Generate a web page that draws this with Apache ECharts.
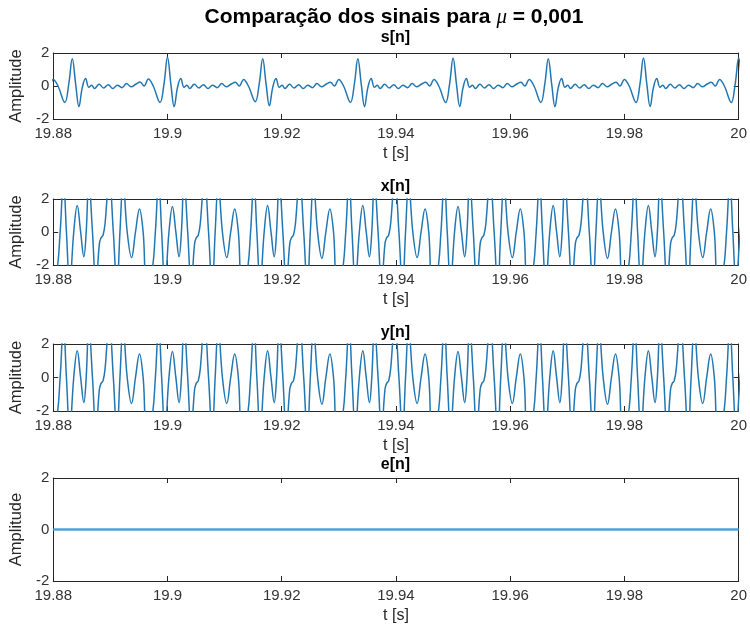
<!DOCTYPE html>
<html>
<head>
<meta charset="utf-8">
<script src="https://cdn.jsdelivr.net/npm/echarts@6/dist/echarts.min.js"></script>
<style>
  html, body { margin: 0; padding: 0; background: #ffffff; }
  #chart { width: 750px; height: 629px; }
</style>
</head>
<body>
<div id="chart"></div>
<script>
// Time origin of the window (s); sample instants below are in ms after it.
const T0 = 19.88;
const xTickLabels = ['19.88', '19.9', '19.92', '19.94', '19.96', '19.98', '20'];
const yTickLabels = ['-2', '0', '2'];
const panelTitles = ['s[n]', 'x[n]', 'y[n]', 'e[n]'];

// s[n]: clean signal
const sTimesMs = [
  -2.17, -1.47, -0.77, -0.02, 0.83, 2.03, 2.73, 3.33, 3.93, 4.5, 5.08, 5.66, 6.23, 6.73, 7.23, 8.03, 8.83, 9.63, 10.43, 11.23, 12.03, 12.83, 13.63,
  14.5, 15.2, 15.9, 16.65, 17.5, 18.7, 19.4, 20.0, 20.6, 21.17, 21.75, 22.33, 22.9, 23.4, 23.9, 24.7, 25.5, 26.3, 27.1, 27.9, 28.7, 29.5, 30.3,
  31.17, 31.87, 32.57, 33.32, 34.17, 35.37, 36.07, 36.67, 37.27, 37.84, 38.42, 39.0, 39.57, 40.07, 40.57, 41.37, 42.17, 42.97, 43.77, 44.57, 45.37, 46.17, 46.97,
  47.83, 48.53, 49.23, 49.98, 50.83, 52.03, 52.73, 53.33, 53.93, 54.5, 55.08, 55.66, 56.23, 56.73, 57.23, 58.03, 58.83, 59.63, 60.43, 61.23, 62.03, 62.83, 63.63,
  64.5, 65.2, 65.9, 66.65, 67.5, 68.7, 69.4, 70.0, 70.6, 71.17, 71.75, 72.33, 72.9, 73.4, 73.9, 74.7, 75.5, 76.3, 77.1, 77.9, 78.7, 79.5, 80.3,
  81.17, 81.87, 82.57, 83.32, 84.17, 85.37, 86.07, 86.67, 87.27, 87.84, 88.42, 89.0, 89.57, 90.07, 90.57, 91.37, 92.17, 92.97, 93.77, 94.57, 95.37, 96.17, 96.97,
  97.83, 98.53, 99.23, 99.98, 100.83, 102.03, 102.73, 103.33, 103.93, 104.5, 105.08, 105.66, 106.23, 106.73, 107.23, 108.03, 108.83, 109.63, 110.43, 111.23, 112.03, 112.83, 113.63,
  114.5, 115.2, 115.9, 116.65, 117.5, 118.7, 119.4, 120.0, 120.6, 121.17
];
const sValues = [
  0.12, 0.22, 0.0, 0.4, 0.0, -1.0, 0.15, 1.65, 0.1, -1.25, -0.1, 0.45, -0.08, 0.05, -0.15, 0.1, -0.12, 0.08, -0.15, 0.05, -0.1, 0.15, -0.05,
  0.12, 0.25, 0.0, 0.42, 0.0, -1.0, 0.15, 1.75, 0.1, -1.25, -0.1, 0.45, -0.08, 0.05, -0.15, 0.1, -0.12, 0.08, -0.15, 0.05, -0.1, 0.15, -0.05,
  0.12, 0.22, 0.0, 0.4, 0.0, -0.95, 0.15, 1.65, 0.1, -1.2, -0.1, 0.45, -0.08, 0.05, -0.15, 0.1, -0.12, 0.08, -0.15, 0.05, -0.1, 0.15, -0.05,
  0.12, 0.22, 0.0, 0.4, 0.0, -1.0, 0.15, 1.65, 0.1, -1.25, -0.1, 0.45, -0.08, 0.05, -0.15, 0.1, -0.12, 0.08, -0.15, 0.05, -0.1, 0.15, -0.05,
  0.12, 0.22, 0.0, 0.4, 0.0, -1.0, 0.15, 1.7, 0.1, -1.25, -0.1, 0.45, -0.08, 0.05, -0.15, 0.1, -0.12, 0.08, -0.15, 0.05, -0.1, 0.15, -0.05,
  0.12, 0.22, 0.0, 0.4, 0.0, -1.0, 0.15, 1.65, 0.1, -1.25, -0.1, 0.45, -0.08, 0.05, -0.15, 0.1, -0.12, 0.08, -0.15, 0.05, -0.1, 0.15, -0.05,
  0.12, 0.22, 0.0, 0.4, 0.0, -1.0, 0.15, 1.7, 0.1, -1.25, -0.1, 0.45, -0.08, 0.05, -0.15, 0.1, -0.12, 0.08, -0.15, 0.05, -0.1, 0.15, -0.05,
  0.12, 0.22, 0.0, 0.4, 0.0, -1.0, 0.15, 1.7, 0.1, -1.25
];

// x[n] and y[n] share the same sample instants
const xyTimesMs = [
  -0.30, 0.57, 1.21, 1.79, 2.31, 2.89, 3.59,
  4.2, 4.78, 5.36, 5.77, 6.23, 6.87, 7.48, 8.08, 8.37, 8.72, 9.07, 9.8, 10.52, 11.16, 11.68, 12.23, 12.95, 13.71, 14.4, 15.1, 15.74, 16.37, 17.24, 17.88, 18.46, 18.98, 19.56, 20.26,
  20.87, 21.45, 22.03, 22.44, 22.9, 23.54, 24.15, 24.75, 25.04, 25.39, 25.74, 26.47, 27.19, 27.83, 28.35, 28.9, 29.62, 30.38, 31.07, 31.77, 32.41, 33.04, 33.91, 34.55, 35.13, 35.65, 36.23, 36.93,
  37.53, 38.11, 38.69, 39.1, 39.56, 40.2, 40.81, 41.41, 41.7, 42.05, 42.4, 43.13, 43.85, 44.49, 45.01, 45.56, 46.28, 47.04, 47.73, 48.43, 49.07, 49.7, 50.57, 51.21, 51.79, 52.31, 52.89, 53.59,
  54.2, 54.78, 55.36, 55.77, 56.23, 56.87, 57.48, 58.08, 58.37, 58.72, 59.07, 59.8, 60.52, 61.16, 61.68, 62.23, 62.95, 63.71, 64.4, 65.1, 65.74, 66.37, 67.24, 67.88, 68.46, 68.98, 69.56, 70.26,
  70.87, 71.45, 72.03, 72.44, 72.9, 73.54, 74.15, 74.75, 75.04, 75.39, 75.74, 76.47, 77.19, 77.83, 78.35, 78.9, 79.62, 80.38, 81.07, 81.77, 82.41, 83.04, 83.91, 84.55, 85.13, 85.65, 86.23, 86.93,
  87.53, 88.11, 88.69, 89.1, 89.56, 90.2, 90.81, 91.41, 91.7, 92.05, 92.4, 93.13, 93.85, 94.49, 95.01, 95.56, 96.28, 97.04, 97.73, 98.43, 99.07, 99.7, 100.57, 101.21, 101.79, 102.31, 102.89, 103.59,
  104.2, 104.78, 105.36, 105.77, 106.23, 106.87, 107.48, 108.08, 108.37, 108.72, 109.07, 109.8, 110.52, 111.16, 111.68, 112.23, 112.95, 113.71, 114.4, 115.1, 115.74, 116.37, 117.24, 117.88, 118.46, 118.98, 119.56, 120.26,
  120.87
];

// x[n]: signal plus interference (peaks beyond ±2 run off the axes)
const xValues = [
  -3.0, -2.5, 0.0, 3.2, 0.0, -3.2, 0.0,
  1.6, 0.05, -1.5, 0.0, 3.2, 0.0, -3.2, -0.7, -0.35, -0.2, 0.5, 3.4, 0.0, -3.4, 0.0, 3.0, 0.0, -1.55, 0.0, 1.4, 0.0, -3.0, -2.5, 0.0, 3.2, 0.0, -3.2, 0.0,
  1.55, 0.05, -1.5, 0.0, 3.2, 0.0, -3.2, -0.7, -0.35, -0.2, 0.5, 3.4, 0.0, -3.4, 0.0, 3.0, 0.0, -1.55, 0.0, 1.4, 0.0, -3.0, -2.5, 0.0, 3.2, 0.0, -3.2, 0.0,
  1.6, 0.05, -1.5, 0.0, 3.2, 0.0, -3.2, -0.7, -0.35, -0.2, 0.5, 3.4, 0.0, -3.4, 0.0, 3.0, 0.0, -1.6, 0.0, 1.4, 0.0, -3.0, -2.5, 0.0, 3.2, 0.0, -3.2, 0.0,
  1.6, 0.05, -1.5, 0.0, 3.2, 0.0, -3.2, -0.7, -0.35, -0.2, 0.5, 3.4, 0.0, -3.4, 0.0, 3.0, 0.0, -1.55, 0.0, 1.4, 0.0, -3.0, -2.5, 0.0, 3.2, 0.0, -3.2, 0.0,
  1.55, 0.05, -1.5, 0.0, 3.2, 0.0, -3.2, -0.7, -0.35, -0.2, 0.5, 3.4, 0.0, -3.4, 0.0, 3.0, 0.0, -1.55, 0.0, 1.4, 0.0, -3.0, -2.5, 0.0, 3.2, 0.0, -3.2, 0.0,
  1.6, 0.05, -1.5, 0.0, 3.2, 0.0, -3.2, -0.7, -0.35, -0.2, 0.5, 3.4, 0.0, -3.4, 0.0, 3.0, 0.0, -1.6, 0.0, 1.4, 0.0, -3.0, -2.5, 0.0, 3.2, 0.0, -3.2, 0.0,
  1.6, 0.05, -1.5, 0.0, 3.2, 0.0, -3.2, -0.7, -0.35, -0.2, 0.5, 3.4, 0.0, -3.4, 0.0, 3.0, 0.0, -1.55, 0.0, 1.4, 0.0, -3.0, -2.5, 0.0, 3.2, 0.0, -3.2, 0.0,
  1.6
];

// y[n]: filter output
const yValues = [
  -3.0, -2.5, 0.0, 3.2, 0.0, -3.2, 0.0,
  1.6, 0.05, -1.5, 0.0, 3.2, 0.0, -3.2, -0.7, -0.35, -0.2, 0.5, 3.4, 0.0, -3.4, 0.0, 3.0, 0.0, -1.55, 0.0, 1.4, 0.0, -3.0, -2.5, 0.0, 3.2, 0.0, -3.2, 0.0,
  1.55, 0.05, -1.5, 0.0, 3.2, 0.0, -3.2, -0.7, -0.35, -0.2, 0.5, 3.4, 0.0, -3.4, 0.0, 3.0, 0.0, -1.55, 0.0, 1.4, 0.0, -3.0, -2.5, 0.0, 3.2, 0.0, -3.2, 0.0,
  1.6, 0.05, -1.5, 0.0, 3.2, 0.0, -3.2, -0.7, -0.35, -0.2, 0.5, 3.4, 0.0, -3.4, 0.0, 3.0, 0.0, -1.6, 0.0, 1.4, 0.0, -3.0, -2.5, 0.0, 3.2, 0.0, -3.2, 0.0,
  1.6, 0.05, -1.5, 0.0, 3.2, 0.0, -3.2, -0.7, -0.35, -0.2, 0.5, 3.4, 0.0, -3.4, 0.0, 3.0, 0.0, -1.55, 0.0, 1.4, 0.0, -3.0, -2.5, 0.0, 3.2, 0.0, -3.2, 0.0,
  1.55, 0.05, -1.5, 0.0, 3.2, 0.0, -3.2, -0.7, -0.35, -0.2, 0.5, 3.4, 0.0, -3.4, 0.0, 3.0, 0.0, -1.55, 0.0, 1.4, 0.0, -3.0, -2.5, 0.0, 3.2, 0.0, -3.2, 0.0,
  1.6, 0.05, -1.5, 0.0, 3.2, 0.0, -3.2, -0.7, -0.35, -0.2, 0.5, 3.4, 0.0, -3.4, 0.0, 3.0, 0.0, -1.6, 0.0, 1.4, 0.0, -3.0, -2.5, 0.0, 3.2, 0.0, -3.2, 0.0,
  1.6, 0.05, -1.5, 0.0, 3.2, 0.0, -3.2, -0.7, -0.35, -0.2, 0.5, 3.4, 0.0, -3.4, 0.0, 3.0, 0.0, -1.55, 0.0, 1.4, 0.0, -3.0, -2.5, 0.0, 3.2, 0.0, -3.2, 0.0,
  1.6
];

// e[n]: error signal
const eTimesMs = [0, 120];
const eValues = [0, 0];

const FONT = '"Liberation Sans", Arial, Helvetica, sans-serif';
const INK = '#262626';
const LINE = '#2277b3';

const panels = [
  { top: 53,  height: 66,  titleY: 38,  times: sTimesMs,  values: sValues, color: LINE, width: 1.5 },
  { top: 199, height: 66,  titleY: 187, times: xyTimesMs, values: xValues, color: LINE, width: 1.5 },
  { top: 344, height: 67,  titleY: 333, times: xyTimesMs, values: yValues, color: LINE, width: 1.5 },
  { top: 478, height: 103, titleY: 465, times: eTimesMs,  values: eValues, color: '#4ba3dc', width: 2.5 }
];

const toPairs = (ms, vals) => ms.map((m, i) => [T0 + m / 1000, vals[i]]);

const grids = [], xAxes = [], yAxes = [], series = [], graphics = [];
const tickStyle = { show: true, inside: true, length: 5, lineStyle: { color: INK, width: 1 } };
const lineAxis = { show: true, onZero: false, lineStyle: { color: INK, width: 1 } };

panels.forEach((p, i) => {
  grids.push({ left: 52, right: 11, top: p.top, height: p.height, containLabel: false });
  const xBase = {
    type: 'value', gridIndex: i, min: 19.88, max: 20, interval: 0.02,
    axisLine: lineAxis, axisTick: tickStyle, splitLine: { show: false }
  };
  xAxes.push(Object.assign({}, xBase, {
    position: 'bottom',
    axisLabel: {
      color: '#333', fontSize: 15, fontFamily: FONT, margin: 7,
      formatter: v => xTickLabels[Math.round((v - T0) / 0.02)]
    },
    name: 't [s]', nameLocation: 'middle', nameGap: 27,
    nameTextStyle: { color: INK, fontSize: 16, fontFamily: FONT }
  }));
  xAxes.push(Object.assign({}, xBase, { position: 'top', axisLabel: { show: false } }));
  const yBase = {
    type: 'value', gridIndex: i, min: -2, max: 2, interval: 2,
    axisLine: lineAxis, axisTick: tickStyle, splitLine: { show: false }
  };
  yAxes.push(Object.assign({}, yBase, {
    position: 'left',
    axisLabel: {
      color: '#333', fontSize: 15, fontFamily: FONT, margin: 4,
      formatter: v => yTickLabels[Math.round((v + 2) / 2)]
    },
    name: 'Amplitude', nameLocation: 'middle', nameGap: 15, nameRotate: 90,
    nameTextStyle: { color: INK, fontSize: 16.5, fontFamily: FONT }
  }));
  yAxes.push(Object.assign({}, yBase, { position: 'right', axisLabel: { show: false } }));

  series.push({
    type: 'line', name: panelTitles[i],
    xAxisIndex: i * 2, yAxisIndex: i * 2,
    data: toPairs(p.times, p.values),
    showSymbol: false, smooth: 0.4, clip: true,
    lineStyle: { color: p.color, width: p.width },
    emphasis: { disabled: true }
  });

  graphics.push({
    type: 'text', x: 395.5, y: p.titleY, z: 10,
    style: {
      text: panelTitles[i], fill: '#000',
      font: 'bold 16px ' + FONT,
      textAlign: 'center', textVerticalAlign: 'middle', align: 'center', verticalAlign: 'middle'
    }
  });
});

graphics.push({
  type: 'text', x: 394, y: 17, z: 10,
  style: {
    text: '{b|Comparação dos sinais para }{m|μ}{b| = 0,001}',
    textAlign: 'center', textVerticalAlign: 'middle', align: 'center', verticalAlign: 'middle',
    rich: {
      b: { fontSize: 21, fontWeight: 'bold', fontFamily: FONT, fill: '#000' },
      m: { fontSize: 21, fontStyle: 'italic', fontFamily: '"Liberation Serif", serif', fill: '#000' }
    }
  }
});

const chart = echarts.init(document.getElementById('chart'), null, { renderer: 'canvas' });
chart.setOption({
  backgroundColor: '#ffffff',
  animation: false,
  grid: grids,
  xAxis: xAxes,
  yAxis: yAxes,
  series: series,
  graphic: graphics
});
</script>
</body>
</html>
